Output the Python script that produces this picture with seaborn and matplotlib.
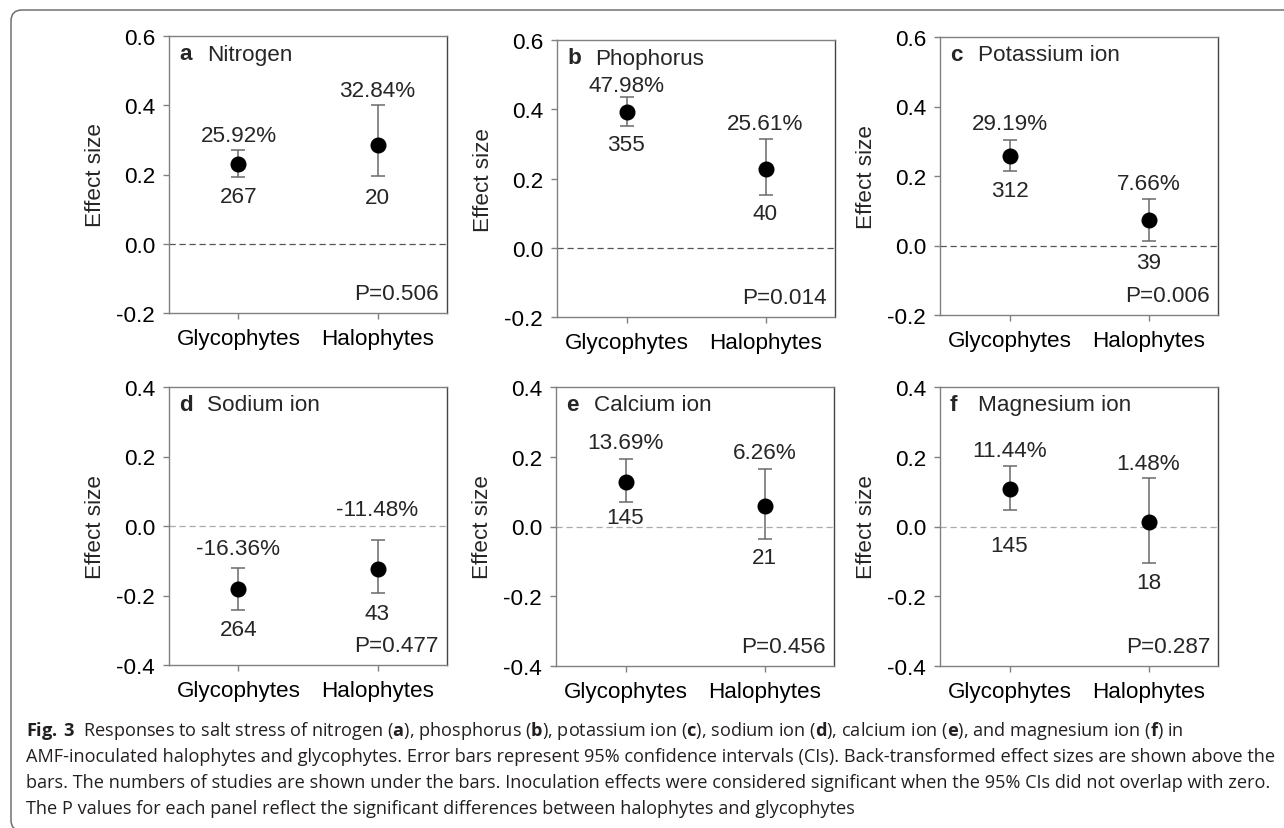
import numpy as np
import pandas as pd
import matplotlib
matplotlib.use("Agg")
import matplotlib.pyplot as plt
import matplotlib.transforms as mtrans
from matplotlib.patches import FancyBboxPatch
import seaborn as sns

# ---------------- data ----------------
panel_letters = ["a", "b", "c", "d", "e", "f"]
panel_names = ["Nitrogen", "Phophorus", "Potassium ion", "Sodium ion", "Calcium ion", "Magnesium ion"]
groups = ["Glycophytes", "Halophytes"]
effect = [[0.231, 0.284], [0.393, 0.228], [0.257, 0.074],
          [-0.181, -0.123], [0.129, 0.060], [0.108, 0.014]]
ci_low = [[0.194, 0.195], [0.351, 0.151], [0.214, 0.012],
          [-0.243, -0.193], [0.070, -0.036], [0.046, -0.106]]
ci_high = [[0.272, 0.402], [0.434, 0.315], [0.304, 0.133],
           [-0.121, -0.040], [0.194, 0.165], [0.173, 0.139]]
pct_labels = [["25.92%", "32.84%"], ["47.98%", "25.61%"], ["29.19%", "7.66%"],
              ["-16.36%", "-11.48%"], ["13.69%", "6.26%"], ["11.44%", "1.48%"]]
n_studies = [[267, 20], [355, 40], [312, 39], [264, 43], [145, 21], [145, 18]]
p_values = ["P=0.506", "P=0.014", "P=0.006", "P=0.477", "P=0.456", "P=0.287"]
ylims = [(-0.2, 0.6)] * 3 + [(-0.4, 0.4)] * 3
yticks_top = [-0.2, 0.0, 0.2, 0.4, 0.6]
yticks_bottom = [-0.4, -0.2, 0.0, 0.2, 0.4]

caption_lines = [
    r"$\mathbf{Fig.\,3}$  Responses to salt stress of nitrogen ($\mathbf{a}$), phosphorus ($\mathbf{b}$), "
    r"potassium ion ($\mathbf{c}$), sodium ion ($\mathbf{d}$), calcium ion ($\mathbf{e}$), and magnesium ion ($\mathbf{f}$) in",
    "AMF-inoculated halophytes and glycophytes. Error bars represent 95% confidence intervals (CIs). "
    "Back-transformed effect sizes are shown above the",
    "bars. The numbers of studies are shown under the bars. Inoculation effects were considered "
    "significant when the 95% CIs did not overlap with zero.",
    "The P values for each panel reflect the significant differences between halophytes and glycophytes",
]

# ---------------- layout (pixels) ----------------
W, H = 1284, 829
axes_px = [(169, 37, 447, 314), (557, 41, 835, 318), (940, 38, 1218, 316),
           (169, 388, 447, 666), (556, 388, 834, 667), (940, 388, 1218, 667)]
pct_off_px = [[14, 14], [12, 15], [16, 16], [20, 30], [16, 16], [16, 15]]
n_off_px = [[20, 21], [18, 18], [19, 21], [19, 20], [15, 18], [35, 19]]

sns.set_theme(style="ticks")
plt.rcParams["font.family"] = ["Liberation Sans", "DejaVu Sans"]
plt.rcParams["axes.unicode_minus"] = False
plt.rcParams["mathtext.fontset"] = "custom"
plt.rcParams["mathtext.rm"] = "Open Sans"
plt.rcParams["mathtext.bf"] = "Open Sans:bold"

FS = 16.2
fig = plt.figure(figsize=(W / 100, H / 100), dpi=100)
fig.patch.set_facecolor("white")

px2pt = 72 / 100
for k in range(6):
    l, t, r, b = axes_px[k]
    ax = fig.add_axes([l / W, (H - b) / H, (r - l) / W, (b - t) / H])
    df = pd.DataFrame({"group": groups, "effect": effect[k]})
    xs = np.arange(len(groups))
    lo = np.array(ci_low[k]); hi = np.array(ci_high[k]); ef = np.array(effect[k])
    zero_col = "#555555" if k < 3 else "#aaaaaa"
    ax.axhline(0, color=zero_col, lw=0.9, ls=(0, (5, 3)), zorder=1)
    ax.errorbar(xs, ef, yerr=[ef - lo, hi - ef], fmt="none", ecolor="#6a6a6a",
                elinewidth=1.1, capsize=4.7, capthick=1.1, zorder=2)
    sns.pointplot(data=df, x="group", y="effect", order=groups, errorbar=None,
                  linestyle="none", marker="o", color="black", markersize=9.5,
                  ax=ax, zorder=3)
    ax.set_xlim(-0.5, 1.5)
    ax.set_ylim(*ylims[k])
    ticks = yticks_top if k < 3 else yticks_bottom
    ax.set_yticks(ticks)
    ax.set_yticklabels([f"{v:.1f}" for v in ticks])
    ax.set_xlabel("")
    ax.set_ylabel("Effect size", fontsize=FS)
    ax.yaxis.set_label_coords(-63 / (r - l), 0.5)
    ax.tick_params(axis="both", direction="out", length=4, width=1, color="#808080",
                   labelsize=FS, labelcolor="black")
    ax.tick_params(axis="y", pad=6)
    ax.tick_params(axis="x", pad=7)
    for name, sp in ax.spines.items():
        sp.set_visible(True)
        sp.set_color("#808080" if name != "right" else "#444444")
        sp.set_linewidth(1)

    for i in range(len(groups)):
        ax.annotate(pct_labels[k][i], xy=(xs[i], hi[i]), xytext=(0, pct_off_px[k][i] * px2pt),
                    textcoords="offset points", ha="center", va="center", fontsize=FS)
        ax.annotate(str(n_studies[k][i]), xy=(xs[i], lo[i]), xytext=(0, -n_off_px[k][i] * px2pt),
                    textcoords="offset points", ha="center", va="center", fontsize=FS)

    wpx, hpx = r - l, b - t
    ax.text(10 / wpx, 1 - 18 / hpx, panel_letters[k], transform=ax.transAxes,
            fontsize=FS, fontweight="bold", ha="left", va="center")
    ax.text(38 / wpx, 1 - 18 / hpx, panel_names[k], transform=ax.transAxes,
            fontsize=FS, ha="left", va="center")
    ax.text(1 - 8 / wpx, 19 / hpx, p_values[k], transform=ax.transAxes,
            fontsize=FS, ha="right", va="center")

# ---------------- frame ----------------
frame = FancyBboxPatch((11, -3), 1400, H - 11 + 3, boxstyle="round,pad=0,rounding_size=11",
                       transform=mtrans.IdentityTransform(), facecolor="none",
                       edgecolor="#707070", lw=1.1)
fig.add_artist(frame)

# ---------------- caption ----------------
renderer = fig.canvas.get_renderer()
probe = fig.text(0, 0, caption_lines[1], fontsize=10, family="Open Sans")
wprobe = probe.get_window_extent(renderer).width
probe.remove()
cap_fs = 10 * 1250 / wprobe
baselines = [736, 762, 788, 814]
for line, yb in zip(caption_lines, baselines):
    fig.text(26 / W, (H - yb) / H, line, fontsize=cap_fs, family="Open Sans",
             color="#231f20", ha="left", va="baseline")

fig.savefig("out.png", dpi=100)
